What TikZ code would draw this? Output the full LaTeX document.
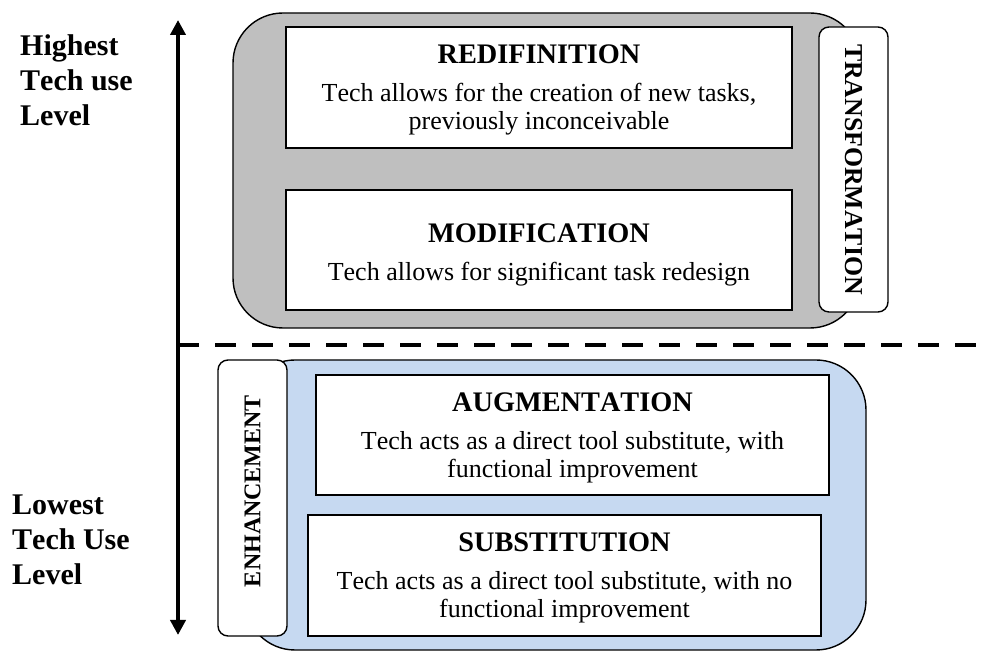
\documentclass[tikz,border=0pt]{standalone}
\usepackage{fontspec}
\setmainfont{Liberation Serif}[Kerning=Off]
\usetikzlibrary{arrows.meta, positioning}
\definecolor{levelgray}{RGB}{191,191,191}
\definecolor{levelblue}{RGB}{198,217,241}
\newcommand{\leveltitle}[1]{{\bfseries\fontsize{28.3}{30}\selectfont #1}\\[10pt]}

\begin{document}
\begin{tikzpicture}[x=1pt, y=1pt,
  levelbox/.style={draw, line width=1.6pt, fill=white, inner sep=0pt},
  leveltext/.style={inner sep=0pt, align=center, font=\fontsize{26}{28}\selectfont},
  sidebox/.style={draw, line width=1.4pt, fill=white, rounded corners=10pt, inner sep=0pt,
    minimum width=69pt},
  sidetext/.style={inner sep=0pt, font=\bfseries\fontsize{24}{26}\selectfont},
  sidelabel/.style={anchor=west, inner sep=0pt, align=left,
    font=\bfseries\fontsize{30}{35}\selectfont}]
\useasboundingbox (0,0) rectangle (985,652);
% the two groups
\draw[line width=1.4pt, fill=levelgray, rounded corners=50pt] (233,639) rectangle (860,324);
\draw[line width=1.4pt, fill=levelblue, rounded corners=50pt] (245,292) rectangle (866,2);
% levels
\node[levelbox, minimum width=506pt, minimum height=121pt] (redef) at (539,564.5) {};
\node[leveltext, below=18pt of redef.north] (redeftext)
  {\leveltitle{REDIFINITION}Tech allows for the creation of new tasks,\\ previously inconceivable};
\node[levelbox, minimum width=506pt, minimum height=120pt] (modif) at (539,402) {};
\node[leveltext, below=34pt of modif.north] (modiftext)
  {\leveltitle{MODIFICATION}Tech allows for significant task redesign};
\node[levelbox, minimum width=513pt, minimum height=120pt] (augm) at (572.5,217) {};
\node[leveltext, below=18pt of augm.north] (augmtext)
  {\leveltitle{AUGMENTATION}Tech acts as a direct tool substitute, with\\ functional improvement};
\node[levelbox, minimum width=513pt, minimum height=121pt] (subst) at (564.5,76.5) {};
\node[leveltext, below=18pt of subst.north] (substtext)
  {\leveltitle{SUBSTITUTION}Tech acts as a direct tool substitute, with no\\ functional improvement};
% side tabs
\node[sidebox, minimum height=285pt] (transf) at (853.5,482.5) {};
\node[sidetext, rotate=-90, font=\bfseries\fontsize{25.8}{27}\selectfont] (transftext) at (transf.center) {TRANSFORMATION};
\node[sidebox, minimum height=276pt] (enhan) at (252.5,154) {};
\node[sidetext, rotate=90] (enhantext) at ([yshift=7pt]enhan.center) {ENHANCEMENT};
% scale
\coordinate (low) at (178,17);
\coordinate (high) at (178,632);
\coordinate (split) at (178,307);
\coordinate (splitend) at (985,307);
\draw[line width=4pt, {Triangle[length=15pt,width=15pt]}-{Triangle[length=15pt,width=15pt]}] (low) -- (high);
\draw[line width=4pt, dash pattern=on 21pt off 16pt] (split) -- (splitend);
\node[sidelabel] (highest) at (20,572) {Highest\\Tech use\\Level};
\node[sidelabel] (lowest) at (12,112) {Lowest\\Tech Use\\Level};
\end{tikzpicture}
\end{document}
